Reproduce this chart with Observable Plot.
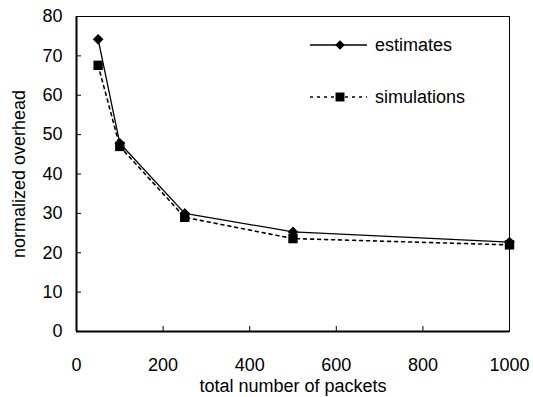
<!DOCTYPE html>
<html>
<head>
<meta charset="utf-8">
<script src="https://cdn.jsdelivr.net/npm/d3@7"></script>
<script src="https://cdn.jsdelivr.net/npm/@observablehq/plot@0.6"></script>
<style>
  body { margin: 0; background: #fff; }
  #chart svg { font-family: "Liberation Sans", Arial, sans-serif; }
</style>
</head>
<body>
<div id="chart"></div>
<script>
const packets = [50, 100, 250, 500, 1000];
const estimates = [74.2, 47.8, 30.0, 25.3, 22.7];
const simulations = [67.6, 47.0, 29.0, 23.6, 22.0];
const xTicks = [0, 200, 400, 600, 800, 1000];
const yTicks = [0, 10, 20, 30, 40, 50, 60, 70, 80];
const seriesNames = ["estimates", "simulations"];

const est = packets.map((x, i) => ({x, y: estimates[i]}));
const sim = packets.map((x, i) => ({x, y: simulations[i]}));

const chart = Plot.plot({
  width: 533,
  height: 397,
  marginLeft: 76,
  marginRight: 24,
  marginTop: 16,
  marginBottom: 66,
  style: {fontSize: "18px", fontFamily: "Liberation Sans, Arial, sans-serif", color: "#000", background: "#fff"},
  x: {domain: [0, 1000]},
  y: {domain: [0, 80]},
  marks: [
    Plot.frame({stroke: "#000", strokeWidth: 1}),
    Plot.axisX({ticks: xTicks, tickSize: -5, tickPadding: 32, tickFormat: d => String(d), label: "total number of packets", labelAnchor: "center", labelArrow: "none", labelOffset: 60, fontSize: 18}),
    Plot.axisY({ticks: yTicks, tickSize: -5, tickPadding: 19, tickFormat: d => String(d), label: "normalized overhead", labelAnchor: "center", labelArrow: "none", labelOffset: 64, fontSize: 18}),
    Plot.ruleX([0], {stroke: "#000", strokeWidth: 2}),
    Plot.ruleY([0], {stroke: "#000", strokeWidth: 2}),
    Plot.line(sim, {x: "x", y: "y", stroke: "#000", strokeWidth: 1.6, strokeDasharray: "3,4"}),
    Plot.line(est, {x: "x", y: "y", stroke: "#000", strokeWidth: 1.3}),
    Plot.dot(sim, {x: "x", y: "y", symbol: "square", r: 5.3, fill: "#000"}),
    Plot.dot(est, {x: "x", y: "y", symbol: "diamond2", r: 4.8, fill: "#000", stroke: "none"})
  ]
});
document.getElementById("chart").appendChild(chart);

// legend inside plot area
const svg = d3.select(chart);
const lg = svg.append("g")
  .attr("font-family", "Liberation Sans, Arial, sans-serif")
  .attr("font-size", 18)
  .attr("text-anchor", "start");
const rows = [
  {name: seriesNames[0], y: 45, dash: null, sym: d3.symbolDiamond2, size: 60},
  {name: seriesNames[1], y: 97, dash: "3,4", sym: d3.symbolSquare, size: 80}
];
rows.forEach(r => {
  lg.append("line").attr("x1", 310).attr("x2", 367).attr("y1", r.y).attr("y2", r.y)
    .attr("stroke", "#000").attr("stroke-width", r.dash ? 1.6 : 1.3).attr("stroke-dasharray", r.dash);
  lg.append("path").attr("transform", `translate(340,${r.y})`)
    .attr("d", d3.symbol(r.sym, r.size)()).attr("fill", "#000");
  lg.append("text").attr("x", 375).attr("y", r.y).attr("dy", "0.35em").text(r.name);
});
</script>
</body>
</html>
